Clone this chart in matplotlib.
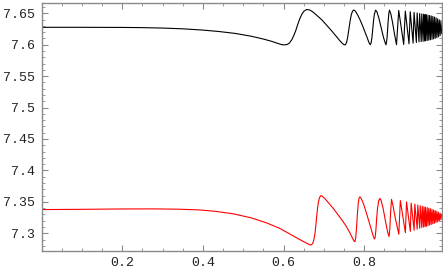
import matplotlib
matplotlib.use("Agg")
import matplotlib.pyplot as plt
from matplotlib.ticker import MultipleLocator, FixedLocator, FixedFormatter

# ---- data ----
black_x = [0.000, 0.100, 0.200, 0.250, 0.300, 0.350, 0.400, 0.440, 0.480, 0.520,
           0.550, 0.570, 0.585, 0.595, 0.602, 0.609, 0.615, 0.620, 0.625, 0.630,
           0.635, 0.640, 0.645, 0.650, 0.657, 0.664, 0.672, 0.682, 0.695, 0.707,
           0.720, 0.731, 0.740, 0.746, 0.750, 0.753, 0.756, 0.759, 0.762, 0.765,
           0.768, 0.771, 0.774, 0.778, 0.784, 0.790, 0.796, 0.802, 0.808, 0.812,
           0.815, 0.817, 0.819, 0.821, 0.823, 0.825, 0.828, 0.831, 0.836, 0.842,
           0.848, 0.852, 0.854, 0.8565, 0.859, 0.861, 0.8626, 0.866, 0.870, 0.875,
           0.880, 0.8825, 0.8855, 0.8978, 0.9018, 0.9110, 0.9140,
           0.9211, 0.9235, 0.9292, 0.9312, 0.9358, 0.9374, 0.9413, 0.9426, 0.9459, 0.9470,
           0.9498, 0.9508, 0.952, 0.954, 0.956, 0.958, 0.960, 0.962, 0.964, 0.966,
           0.968, 0.970, 0.972, 0.974, 0.976, 0.978, 0.980, 0.982, 0.984, 0.986,
           0.988, 0.990, 0.992, 0.994]
black_y = [7.6277, 7.6277, 7.6275, 7.6272, 7.6265, 7.6253, 7.6233, 7.6210, 7.6180, 7.6135,
           7.6090, 7.6055, 7.6022, 7.6002, 7.5997, 7.6003, 7.6030, 7.6075, 7.6140, 7.6220,
           7.6320, 7.6410, 7.6480, 7.6530, 7.6560, 7.6555, 7.6525, 7.6470, 7.6395, 7.6310,
           7.6215, 7.6130, 7.6060, 7.6020, 7.6000, 7.5998, 7.6030, 7.6120, 7.6250, 7.6380,
           7.6480, 7.6535, 7.6552, 7.6535, 7.6470, 7.6390, 7.6300, 7.6200, 7.6100, 7.6030,
           7.6000, 7.6030, 7.6110, 7.6240, 7.6380, 7.6480, 7.6550, 7.6530, 7.6430, 7.6270,
           7.6110, 7.6030, 7.5998, 7.6100, 7.6350, 7.6500, 7.6550, 7.6490, 7.6360, 7.6170,
           7.6000, 7.6250, 7.6545, 7.6005, 7.6535, 7.6015, 7.6525,
           7.6025, 7.6515, 7.6035, 7.6505, 7.6045, 7.6495, 7.6050, 7.6490, 7.6055, 7.6485,
           7.6060, 7.6480, 7.6062, 7.6478, 7.6066, 7.6472, 7.6072, 7.6465, 7.6078, 7.6458,
           7.6085, 7.6450, 7.6093, 7.6440, 7.6102, 7.6428, 7.6112, 7.6413, 7.6125, 7.6395,
           7.6142, 7.6370, 7.6175, 7.6280]

red_x = [0.000, 0.100, 0.200, 0.280, 0.340, 0.390, 0.430, 0.475, 0.520, 0.558,
         0.590, 0.615, 0.640, 0.655, 0.663, 0.668, 0.672, 0.675, 0.678, 0.680,
         0.682, 0.684, 0.686, 0.689, 0.692, 0.696, 0.702, 0.712, 0.723, 0.735,
         0.746, 0.756, 0.765, 0.771, 0.775, 0.777, 0.779, 0.781, 0.783, 0.785,
         0.787, 0.789, 0.792, 0.798, 0.805, 0.812, 0.818, 0.822, 0.825, 0.827,
         0.829, 0.831, 0.833, 0.836, 0.8387, 0.842, 0.847, 0.853, 0.858, 0.8615,
         0.8635, 0.8655, 0.8676, 0.871, 0.877, 0.8857, 0.8875, 0.8895, 0.9020, 0.9048,
         0.9142, 0.9163, 0.9237, 0.9254, 0.9313, 0.9327, 0.9375, 0.9387, 0.9427, 0.9437,
         0.9471, 0.9479, 0.9509, 0.9516, 0.954, 0.956, 0.958, 0.960, 0.962, 0.964,
         0.966, 0.968, 0.970, 0.972, 0.974, 0.976, 0.978, 0.980, 0.982, 0.984,
         0.986, 0.988, 0.990, 0.992, 0.994]
red_y = [7.3377, 7.3381, 7.3387, 7.3388, 7.3383, 7.3372, 7.3350, 7.3310, 7.3245, 7.3165,
         7.3080, 7.2990, 7.2900, 7.2850, 7.2822, 7.2813, 7.2835, 7.2890, 7.3000, 7.3120,
         7.3260, 7.3380, 7.3480, 7.3565, 7.3598, 7.3590, 7.3555, 7.3480, 7.3398, 7.3295,
         7.3200, 7.3105, 7.3000, 7.2920, 7.2875, 7.2867, 7.2930, 7.3100, 7.3300, 7.3470,
         7.3555, 7.3580, 7.3560, 7.3470, 7.3330, 7.3180, 7.3050, 7.2960, 7.2910, 7.2930,
         7.3060, 7.3250, 7.3400, 7.3520, 7.3557, 7.3520, 7.3390, 7.3180, 7.3020, 7.2946,
         7.3080, 7.3350, 7.3540, 7.3450, 7.3240, 7.2985, 7.3250, 7.3520, 7.3010, 7.3500,
         7.3030, 7.3480, 7.3050, 7.3465, 7.3065, 7.3450, 7.3080, 7.3440, 7.3090, 7.3430,
         7.3100, 7.3420, 7.3105, 7.3415, 7.3110, 7.3410, 7.3120, 7.3400, 7.3130, 7.3390,
         7.3140, 7.3380, 7.3150, 7.3370, 7.3160, 7.3360, 7.3170, 7.3350, 7.3182, 7.3335,
         7.3195, 7.3320, 7.3215, 7.3300, 7.3266]

x_ticks = [0.2, 0.4, 0.6, 0.8]
x_tick_labels = ["0.2", "0.4", "0.6", "0.8"]
y_ticks = [7.3, 7.35, 7.4, 7.45, 7.5, 7.55, 7.6, 7.65]
y_tick_labels = ["7.3", "7.35", "7.4", "7.45", "7.5", "7.55", "7.6", "7.65"]

# ---- figure ----
plt.rcParams['font.family'] = ['Liberation Mono', 'DejaVu Sans Mono']
fig = plt.figure(figsize=(4.43, 2.74), dpi=100)
ax = fig.add_axes([41.5 / 443, 1 - 251 / 274, (442.5 - 41.5) / 443, (251 - 3.3) / 274])

ax.plot(black_x, black_y, color='black', lw=0.8, solid_joinstyle='round')
ax.plot(red_x, red_y, color='#ff0000', lw=0.8, solid_joinstyle='round')

ax.set_xlim(0, 0.994)
ax.set_ylim(7.2718, 7.6659)

frame_col = '#8a8a8a'
for s in ax.spines.values():
    s.set_color(frame_col)
    s.set_linewidth(1.0)

ax.xaxis.set_major_locator(FixedLocator(x_ticks))
ax.xaxis.set_major_formatter(FixedFormatter(x_tick_labels))
ax.yaxis.set_major_locator(FixedLocator(y_ticks))
ax.yaxis.set_major_formatter(FixedFormatter(y_tick_labels))
ax.xaxis.set_minor_locator(MultipleLocator(0.05))
ax.yaxis.set_minor_locator(MultipleLocator(0.01))

ax.tick_params(which='both', direction='in', top=True, right=True, color=frame_col,
               labelsize=9.5, labelcolor='#222222')
ax.tick_params(which='major', length=4, width=0.8)
ax.tick_params(which='minor', length=2.2, width=0.6)
ax.tick_params(axis='y', pad=4.5)
ax.tick_params(axis='x', pad=4)

fig.savefig('out.png', dpi=100)
